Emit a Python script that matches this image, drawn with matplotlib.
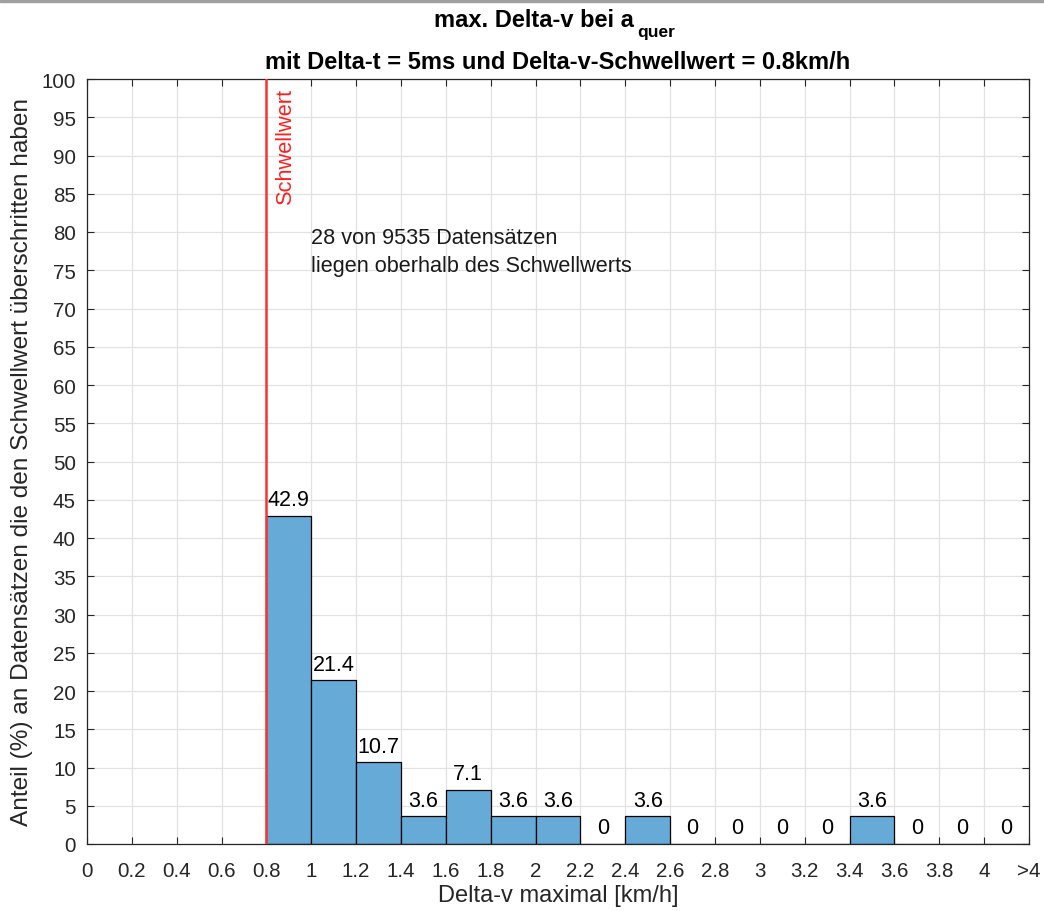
import matplotlib
matplotlib.use('Agg')
import matplotlib.pyplot as plt
from matplotlib.patches import Rectangle

plt.rcParams['font.family'] = ['Liberation Sans', 'DejaVu Sans']

# Daten
bin_left = [0.8, 1.0, 1.2, 1.4, 1.6, 1.8, 2.0, 2.2, 2.4, 2.6, 2.8, 3.0, 3.2, 3.4, 3.6, 3.8, 4.0]
share = [42.9, 21.4, 10.7, 3.6, 7.1, 3.6, 3.6, 0, 3.6, 0, 0, 0, 0, 3.6, 0, 0, 0]
x_ticks = [0, 0.2, 0.4, 0.6, 0.8, 1.0, 1.2, 1.4, 1.6, 1.8, 2.0, 2.2, 2.4, 2.6, 2.8, 3.0,
           3.2, 3.4, 3.6, 3.8, 4.0, 4.2]
x_ticklabels = ['0', '0.2', '0.4', '0.6', '0.8', '1', '1.2', '1.4', '1.6', '1.8', '2', '2.2',
                '2.4', '2.6', '2.8', '3', '3.2', '3.4', '3.6', '3.8', '4', '>4']
y_ticks = list(range(0, 101, 5))
threshold = 0.8
bin_width = 0.2

txt = '#262626'
W, H = 1044, 912

fig = plt.figure(figsize=(W / 100, H / 100), dpi=100)
ax = fig.add_axes([87 / W, 1 - 845 / H, 942 / W, 765 / H])

# grauer Rand oben
fig.patches.append(Rectangle((0, 1 - 3 / H), 1, 3 / H, transform=fig.transFigure,
                             color='#a0a0a0', zorder=10))

ax.bar(bin_left, share, width=bin_width, align='edge', color='#66aad7',
       edgecolor='black', linewidth=0.9, zorder=2)

for x0, v in zip(bin_left, share):
    ax.annotate(f'{v:g}', (x0 + bin_width / 2, v), xytext=(0, 4), textcoords='offset points',
                ha='center', va='bottom', fontsize=15.5, color='black')

ax.axvline(threshold, color='#ff3030', linewidth=1.8, zorder=3)
ax.text(threshold + 0.085, 99, 'Schwellwert', rotation=90, color='#ff2020',
        fontsize=15.7, ha='center', va='top')

ax.text(1.0, 77.5, '28 von 9535 Datensätzen\nliegen oberhalb des Schwellwerts',
        fontsize=15.6, color='#1a1a1a', ha='left', va='center', linespacing=1.45)

ax.set_xlim(0, 4.2)
ax.set_ylim(0, 100)
ax.set_xticks(x_ticks)
ax.set_xticklabels(x_ticklabels)
ax.set_yticks(y_ticks)
ax.grid(True, color='#e2e2e2', linewidth=0.9, zorder=0)
ax.set_axisbelow(True)
ax.tick_params(direction='in', length=5, width=0.8, colors=txt, labelsize=14.8,
               top=True, right=True, labelcolor=txt)
ax.tick_params(axis='x', pad=12)
ax.tick_params(axis='y', pad=8)
for s in ax.spines.values():
    s.set_color(txt)
    s.set_linewidth(0.9)

ax.set_xlabel('Delta-v maximal [km/h]', fontsize=17, color=txt, labelpad=3)
ax.set_ylabel('Anteil (%) an Datensätzen die den Schwellwert überschritten haben',
              fontsize=17.6, color=txt, labelpad=6)

# Titel: erste Zeile mit tiefgestelltem "quer"
fig.text(634 / W, 1 - 27 / H, 'max. Delta-v bei a', ha='right', va='baseline',
         fontsize=17, fontweight='bold', color='black')
fig.text(637 / W, 1 - 37 / H, 'quer', ha='left', va='baseline',
         fontsize=12.5, fontweight='bold', color='black')
fig.text(0.5 * (265 + 850) / W, 1 - 69 / H, 'mit Delta-t = 5ms und Delta-v-Schwellwert = 0.8km/h',
         ha='center', va='baseline', fontsize=17, fontweight='bold', color='black')

fig.savefig('out.png', dpi=100, facecolor='white')
